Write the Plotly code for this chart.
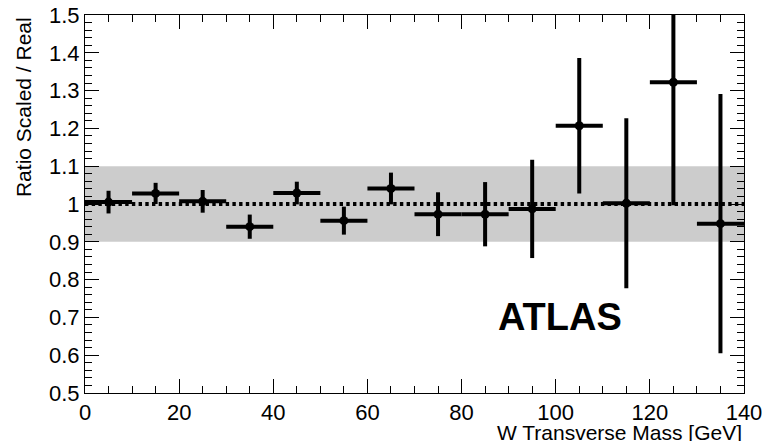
import plotly.graph_objects as go

# Data
bin_centers = [5, 15, 25, 35, 45, 55, 65, 75, 85, 95, 105, 115, 125, 135]
bin_half_width = [5, 5, 5, 5, 5, 5, 5, 5, 5, 5, 5, 5, 5, 5]
ratio = [1.005, 1.028, 1.007, 0.940, 1.029, 0.956, 1.041, 0.973, 0.973, 0.987, 1.207, 1.002, 1.322, 0.948]
ratio_err = [0.030, 0.028, 0.030, 0.032, 0.030, 0.037, 0.042, 0.058, 0.085, 0.130, 0.179, 0.225, 0.325, 0.343]
band_low, band_high = 0.9, 1.1
reference_level = 1.0
x_ticks = [0, 20, 40, 60, 80, 100, 120, 140]
y_ticks = [0.5, 0.6, 0.7, 0.8, 0.9, 1.0, 1.1, 1.2, 1.3, 1.4, 1.5]
y_tick_labels = ["0.5", "0.6", "0.7", "0.8", "0.9", "1", "1.1", "1.2", "1.3", "1.4", "1.5"]

FONT = "Liberation Sans, Arial, Helvetica, sans-serif"

fig = go.Figure()

fig.add_trace(go.Scatter(
    x=bin_centers, y=ratio,
    mode="markers",
    marker=dict(color="black", size=9),
    error_x=dict(type="data", array=bin_half_width, symmetric=True,
                 color="black", thickness=4, width=0),
    error_y=dict(type="data", array=ratio_err, symmetric=True,
                 color="black", thickness=4, width=0),
    showlegend=False, cliponaxis=True,
))

# Grey systematic band
fig.add_shape(type="rect", xref="paper", yref="y", x0=0, x1=1,
              y0=band_low, y1=band_high, fillcolor="#cccccc",
              line=dict(width=0), layer="below")
# Dotted reference line
fig.add_shape(type="line", xref="paper", yref="y", x0=0, x1=1,
              y0=reference_level, y1=reference_level,
              line=dict(color="black", width=4, dash="3.4px,3.3px"), layer="below")

fig.add_annotation(text="<b>ATLAS</b>", x=101, y=0.70, xref="x", yref="y",
                   showarrow=False, font=dict(family=FONT, size=38, color="black"),
                   xanchor="center", yanchor="middle")

fig.add_annotation(text="W Transverse Mass [GeV]", xref="paper", yref="paper",
                   x=1.0, y=-0.104, xanchor="right", yanchor="middle",
                   showarrow=False, font=dict(family=FONT, size=21, color="black"))

fig.add_annotation(text="Ratio Scaled / Real", xref="paper", yref="paper",
                   x=-0.094, y=1.0, xanchor="center", yanchor="top", textangle=-90,
                   showarrow=False, font=dict(family=FONT, size=21, color="black"))

axis_common = dict(
    showgrid=False, zeroline=False, showline=True, linecolor="black", linewidth=1,
    mirror="allticks", ticks="inside", ticklen=14, tickwidth=1, tickcolor="black",
    tickfont=dict(family=FONT, size=22, color="black"), automargin=False,
)

fig.update_xaxes(range=[0, 140], tickvals=x_ticks,
                 minor=dict(dtick=5, tick0=0, ticks="inside", ticklen=7, tickcolor="black", tickwidth=1),
                 **axis_common)
fig.update_yaxes(range=[0.5, 1.5], tickvals=y_ticks, ticktext=y_tick_labels,
                 minor=dict(dtick=0.02, tick0=0.5, ticks="inside", ticklen=7, tickcolor="black", tickwidth=1),
                 **axis_common)

fig.update_layout(
    width=764, height=441,
    margin=dict(l=85, r=20, t=15, b=48, autoexpand=False),
    paper_bgcolor="white", plot_bgcolor="white",
    font=dict(family=FONT, color="black"),
)

fig.write_html("out.html", config={"displayModeBar": False},
               post_script="document.body.style.margin='0';document.body.style.overflow='hidden';")
